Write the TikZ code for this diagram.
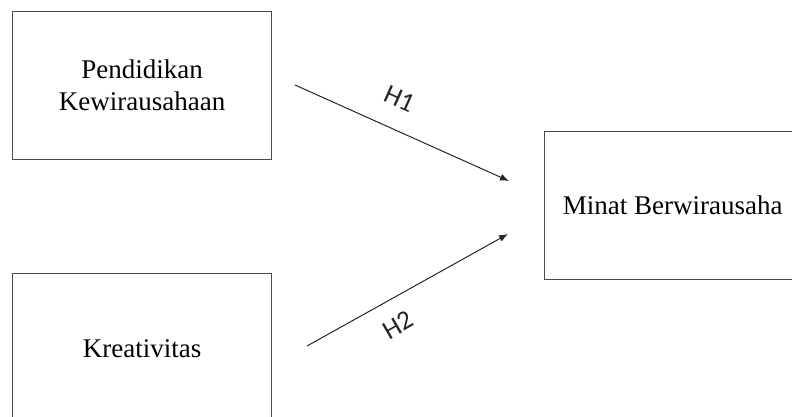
\documentclass[tikz,border=0pt]{standalone}
\usepackage{fontspec}
\setmainfont{Liberation Serif}
\newfontfamily\lblfont{Carlito}
\usetikzlibrary{arrows.meta}
\begin{document}
\begin{tikzpicture}[x=1pt,y=-1pt,
  boxstyle/.style={draw=black!70,line width=1.3pt,minimum width=259pt,anchor=north west,align=center,inner sep=0pt,font=\fontsize{27}{32}\selectfont},
  conn/.style={draw=black!85,line width=1pt,-{Latex[length=9pt,width=7pt]}},
  hlabel/.style={font=\lblfont\fontsize{27}{30}\selectfont,text=black!85,inner sep=0pt}]
\useasboundingbox (0,0) rectangle (792,417);
\clip (0,0) rectangle (792,417);
\node[boxstyle,minimum height=148pt] (pk) at (12,11) {Pendidikan\\Kewirausahaan};
\node[boxstyle,minimum height=150pt] (kr) at (12,273) {Kreativitas};
\node[boxstyle,minimum width=256pt,minimum height=148pt] (mb) at (544,131) {Minat Berwirausaha};
\coordinate (a1s) at (295,85);
\coordinate (a1e) at (509,181);
\coordinate (a2s) at (307,346);
\coordinate (a2e) at (508,234);
\draw[conn] (a1s) -- (a1e);
\draw[conn] (a2s) -- (a2e);
\node[hlabel,rotate=-24] (h1) at (400,99) {H1};
\node[hlabel,rotate=30] (h2) at (398,325) {H2};
\end{tikzpicture}
\end{document}
